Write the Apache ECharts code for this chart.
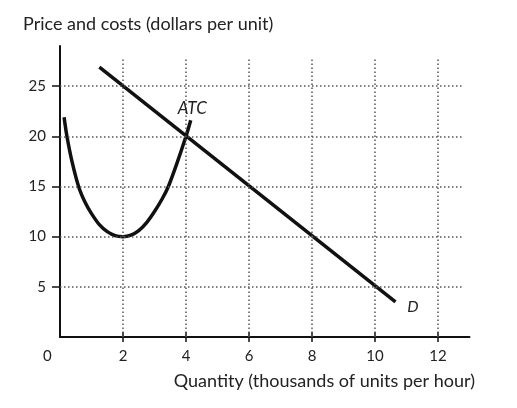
<!DOCTYPE html>
<html><head><meta charset="utf-8">
<script src="https://cdn.jsdelivr.net/npm/echarts@6/dist/echarts.min.js"></script>
<style>html,body{margin:0;padding:0;background:#fff}#c{width:517px;height:408px}</style>
</head><body><div id="c"></div>
<script>
// Data
var xTicks = [2, 4, 6, 8, 10, 12];
var yTicks = [5, 10, 15, 20, 25];
var demandX = [1.25, 10.65];
var demandY = [26.9, 3.5];
var atcX = [0.13, 0.22, 0.38, 0.6, 0.8, 1.0, 1.25, 1.5, 1.75, 2.0, 2.25, 2.5, 2.75, 3.0, 3.25, 3.44, 3.7, 4.0, 4.15];
var atcY = [21.9, 20.0, 17.5, 14.9, 13.4, 12.3, 11.2, 10.5, 10.1, 10.0, 10.15, 10.6, 11.4, 12.5, 13.8, 15.0, 17.2, 20.0, 21.6];
var gridXEnd = 12.75, gridYEnd = 27.8;
var yTitle = 'Price and costs (dollars per unit)';
var xTitle = 'Quantity (thousands of units per hour)';

var FONT = 'Lato';
var TXT = '#222';
function pairs(xs, ys){ return xs.map(function(x,i){return [x, ys[i]];}); }

var gridLines = [];
yTicks.forEach(function(y){ gridLines.push([{coord:[0,y]},{coord:[gridXEnd,y]}]); });
xTicks.forEach(function(x){ gridLines.push([{coord:[x,0]},{coord:[x,gridYEnd]}]); });

var chart = echarts.init(document.getElementById('c'), null, {renderer:'canvas'});
chart.setOption({
  animation:false,
  backgroundColor:'#fff',
  grid:{left:60, top:46, width:409.5, height:291},
  xAxis:[{
    type:'value', min:0, max:13, interval:2,
    axisLine:{onZero:false, lineStyle:{color:'#111', width:2}},
    axisTick:{show:true, length:5, lineStyle:{color:'#111', width:1.5},
      customValues: xTicks},
    axisLabel:{color:TXT, fontFamily:FONT, fontSize:15, margin:12, customValues: xTicks},
    splitLine:{show:false}
  },{
    type:'value', min:0, max:13, interval:2, position:'bottom',
    axisLine:{show:false},
    axisTick:{show:true, inside:true, length:5, lineStyle:{color:'#111', width:1.5}, customValues: xTicks},
    axisLabel:{show:false}, splitLine:{show:false}
  }],
  yAxis:{
    type:'value', min:0, max:29, interval:5,
    axisLine:{show:true, onZero:false, lineStyle:{color:'#111', width:2}},
    axisTick:{show:true, length:8, lineStyle:{color:'#111', width:1.5}, customValues: yTicks},
    axisLabel:{color:TXT, fontFamily:FONT, fontSize:15, margin:14, customValues: yTicks},
    splitLine:{show:false}
  },
  graphic:[
    {type:'text', left:23, top:15, style:{text:yTitle, fill:TXT, font:'18px Lato'}},
    {type:'text', right:42, top:372, style:{text:xTitle, fill:TXT, font:'18px Lato'}},
    {type:'text', left:43, top:349, style:{text:'0', fill:TXT, font:'15px Lato'}}
  ],
  series:[
    {type:'line', data:[], silent:true,
      markLine:{silent:true, symbol:['none','none'], label:{show:false},
        lineStyle:{type:[1.5,2.5], color:'#555', width:1.5}, data:gridLines}},
    {type:'line', data:pairs(atcX, atcY), smooth:0.3, showSymbol:false, silent:true,
      lineStyle:{color:'#111', width:3.5},
      markPoint:{symbol:'circle', symbolSize:0, silent:true,
        label:{show:true, formatter:'ATC', fontFamily:FONT, fontStyle:'italic', fontSize:17, color:TXT},
        data:[{coord:[4.2, 22.8]}]}},
    {type:'line', data:pairs(demandX, demandY), showSymbol:false, silent:true,
      lineStyle:{color:'#111', width:3.5},
      markPoint:{symbol:'circle', symbolSize:0, silent:true,
        label:{show:true, formatter:'D', fontFamily:FONT, fontStyle:'italic', fontSize:16, color:TXT},
        data:[{coord:[11.2, 3.0]}]}}
  ]
});
</script></body></html>
